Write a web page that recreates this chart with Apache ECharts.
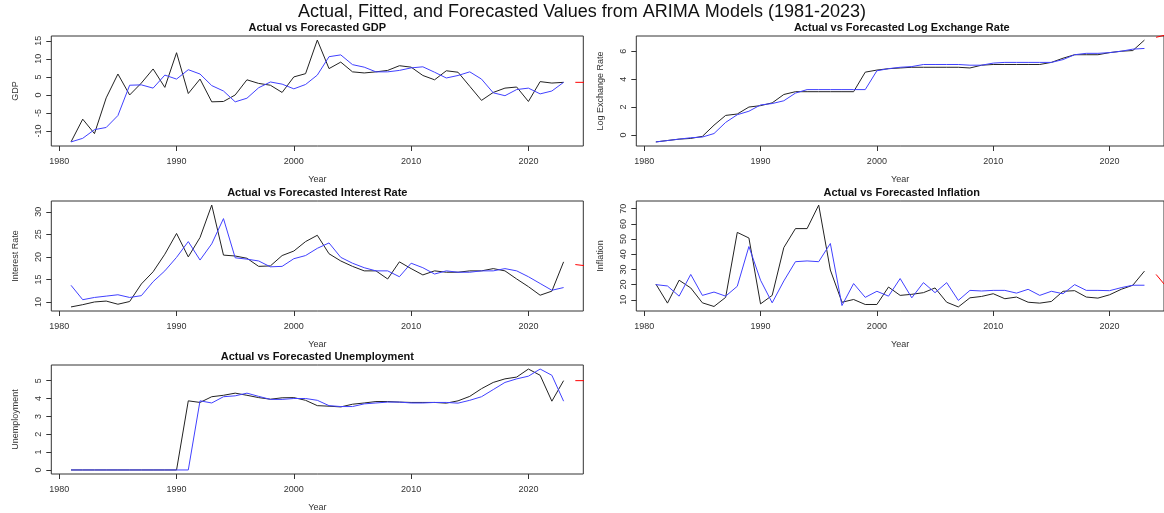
<!DOCTYPE html>
<html><head><meta charset="utf-8">
<script src="https://cdn.jsdelivr.net/npm/echarts@6/dist/echarts.min.js"></script>
<style>html,body{margin:0;padding:0;background:#fff}#c{width:1164px;height:513px}</style>
</head><body><div id="c"></div>
<script>
const years = [1981,1982,1983,1984,1985,1986,1987,1988,1989,1990,1991,1992,1993,1994,1995,1996,1997,1998,1999,2000,2001,2002,2003,2004,2005,2006,2007,2008,2009,2010,2011,2012,2013,2014,2015,2016,2017,2018,2019,2020,2021,2022,2023];
const forecastYears = [2024, 2025];
const xTicks = [1980, 1990, 2000, 2010, 2020];

const gdpActual = [-13,-6.7,-10.7,-0.8,5.8,0,3.3,7.2,2.1,11.7,0.4,4.4,-1.9,-1.8,0,4.2,3.2,2.7,0.7,5.0,5.9,15.2,7.3,9.1,6.4,6.1,6.4,6.8,8.1,7.7,5.4,4.2,6.7,6.3,2.4,-1.5,0.7,1.9,2.2,-1.8,3.7,3.3,3.5];
const gdpFitted = [-13,-12.0,-9.6,-9.0,-5.7,2.7,2.8,1.9,5.5,4.4,7.0,5.8,2.6,1.1,-1.9,-0.9,2.0,3.6,3.0,1.7,2.9,5.5,10.6,11.1,8.4,7.7,6.4,6.4,6.8,7.5,7.8,6.3,4.7,5.4,6.4,4.4,0.6,-0.2,1.5,1.9,0.3,1.1,3.5];
const gdpForecast = [3.5, 3.5];
const gdpTicks = [-10, -5, 0, 5, 10, 15];

const fxActual = [-0.5,-0.4,-0.3,-0.25,-0.1,0.7,1.4,1.5,2.0,2.1,2.3,2.9,3.1,3.1,3.1,3.1,3.1,3.1,4.5,4.65,4.75,4.8,4.85,4.85,4.85,4.85,4.85,4.8,5.0,5.05,5.05,5.05,5.05,5.05,5.2,5.5,5.75,5.75,5.75,5.9,6.0,6.05,6.8];
const fxFitted = [-0.5,-0.4,-0.3,-0.2,-0.15,0.1,0.9,1.45,1.7,2.15,2.25,2.45,3.0,3.25,3.25,3.25,3.25,3.25,3.25,4.6,4.75,4.85,4.9,5.05,5.05,5.05,5.05,5.0,5.0,5.15,5.2,5.2,5.2,5.2,5.2,5.4,5.75,5.85,5.85,5.9,6.0,6.15,6.2];
const fxForecast = [7.0, 7.2];
const fxTicks = [0, 2, 4, 6];

const irActual = [8.9,9.4,10.0,10.2,9.5,10.1,14.0,16.7,20.6,25.2,20.0,24.3,31.5,20.4,20.2,19.7,17.9,18.0,20.3,21.3,23.4,24.8,20.7,19.1,17.9,16.9,16.9,15.1,18.9,17.4,16.0,16.9,16.6,16.6,16.9,16.9,17.4,16.9,15.1,13.4,11.5,12.4,18.9];
const irFitted = [13.7,10.5,11.0,11.3,11.6,11.0,11.4,14.5,16.9,19.9,23.4,19.3,22.9,28.5,19.8,19.5,19.1,17.8,17.9,19.6,20.3,21.9,23.1,19.9,18.6,17.6,16.9,16.9,15.6,18.6,17.6,16.2,16.9,16.6,16.6,16.9,16.9,17.4,16.9,15.6,14.1,12.6,13.2];
const irForecast = [18.3, 18.0];
const irTicks = [10, 15, 20, 25, 30];

const infActual = [20.4,7.8,22.9,17.8,8.0,5.6,11.6,54.4,50.7,7.3,12.9,44.4,56.9,56.9,72.4,29.6,8.4,10.2,6.9,6.9,18.4,12.9,13.6,14.7,17.8,8.4,5.3,11.3,12.2,14.0,10.7,11.8,8.4,7.8,8.9,15.6,16.0,11.8,11.1,13.3,16.9,19.6,28.9];
const infFitted = [20.0,19.1,12.4,26.7,12.9,15.1,12.4,18.9,45.1,22.9,8.0,22.4,35.1,35.6,35.1,47.1,6.2,20.7,11.6,15.6,12.4,24.0,11.3,21.3,14.7,21.3,9.6,16.2,15.8,16.2,16.2,14.4,16.9,12.9,15.6,14.0,20.0,16.2,16.2,16.0,18.0,19.6,19.6];
const infForecast = [26.7, 17.5];
const infTicks = [10, 20, 30, 40, 50, 60, 70];

const unActual = [0,0,0,0,0,0,0,0,0,0,3.87,3.78,4.1,4.18,4.3,4.18,4.05,3.96,4.04,4.05,3.9,3.6,3.57,3.53,3.68,3.75,3.83,3.83,3.8,3.78,3.78,3.78,3.74,3.87,4.12,4.55,4.9,5.1,5.2,5.65,5.3,3.85,5.0];
const unFitted = [0,0,0,0,0,0,0,0,0,0,0,3.87,3.75,4.1,4.15,4.3,4.12,3.95,3.95,4.0,4.0,3.9,3.6,3.55,3.55,3.7,3.75,3.8,3.8,3.75,3.75,3.78,3.78,3.74,3.9,4.1,4.5,4.9,5.1,5.25,5.65,5.3,3.85];
const unForecast = [5.0, 5.0];
const unTicks = [0, 1, 2, 3, 4, 5];

const panels = [
  {title:'Actual vs Forecasted GDP', yName:'GDP', a:gdpActual, f:gdpFitted, fc:gdpForecast, ticks:gdpTicks, col:0, row:0},
  {title:'Actual vs Forecasted Log Exchange Rate', yName:'Log Exchange Rate', a:fxActual, f:fxFitted, fc:fxForecast, ticks:fxTicks, col:1, row:0},
  {title:'Actual vs Forecasted Interest Rate', yName:'Interest Rate', a:irActual, f:irFitted, fc:irForecast, ticks:irTicks, col:0, row:1},
  {title:'Actual vs Forecasted Inflation', yName:'Inflation', a:infActual, f:infFitted, fc:infForecast, ticks:infTicks, col:1, row:1},
  {title:'Actual vs Forecasted Unemployment', yName:'Unemployment', a:unActual, f:unFitted, fc:unForecast, ticks:unTicks, col:0, row:2}
];

const colLeft = [51.3, 636.3];
const colWidth = [532, 531];
const rowTop = [36, 201, 365];
const gridH = 110;
const xMin = 1979.32, xMax = 2024.68;
const axisColor = '#333';
const fontFam = '"Liberation Sans", Arial, sans-serif';

const grids = [], xAxes = [], yAxes = [], series = [], graphics = [];
graphics.push({type:'text', x:582, y:12, style:{text:'Actual, Fitted, and Forecasted Values from ARIMA Models (1981-2023)', font:'normal 18px ' + fontFam, fill:'#111', align:'center', verticalAlign:'middle', textAlign:'center', textVerticalAlign:'middle'}});

panels.forEach((p, i) => {
  const left = colLeft[p.col], width = colWidth[p.col], top = rowTop[p.row];
  const all = p.a.concat(p.f);
  const lo = Math.min(...all), hi = Math.max(...all), r = hi - lo;
  grids.push({left:left, top:top, width:width, height:gridH, show:true, borderColor:axisColor, borderWidth:1, backgroundColor:'transparent', containLabel:false});
  xAxes.push({type:'value', gridIndex:i, min:xMin, max:xMax, position:'bottom',
    name:'Year', nameLocation:'middle', nameGap:29, nameTextStyle:{fontSize:9, color:'#333', fontFamily:fontFam},
    axisLine:{show:false, onZero:false}, splitLine:{show:false},
    axisTick:{show:true, length:5, lineStyle:{color:axisColor}, customValues:xTicks},
    axisLabel:{customValues:xTicks, fontSize:9, color:'#333', margin:11, fontFamily:fontFam, formatter:(v) => String(Math.round(v))}});
  yAxes.push({type:'value', gridIndex:i, min:lo - 0.04*r, max:hi + 0.04*r, position:'left',
    name:p.yName, nameLocation:'middle', nameGap:31, nameRotate:90, nameTextStyle:{fontSize:9, color:'#333', fontFamily:fontFam},
    axisLine:{show:false, onZero:false}, splitLine:{show:false},
    axisTick:{show:true, length:5, lineStyle:{color:axisColor}, customValues:p.ticks},
    axisLabel:{customValues:p.ticks, rotate:90, fontSize:9, color:'#333', margin:8, fontFamily:fontFam, formatter:(v) => String(v)}});
  series.push({type:'line', xAxisIndex:i, yAxisIndex:i, showSymbol:false, silent:true, animation:false,
    data: years.map((y, k) => [y, p.a[k]]), lineStyle:{color:'#222', width:1}});
  series.push({type:'line', xAxisIndex:i, yAxisIndex:i, showSymbol:false, silent:true, animation:false,
    data: years.map((y, k) => [y, p.f[k]]), lineStyle:{color:'#4040ff', width:1}});
  series.push({type:'line', xAxisIndex:i, yAxisIndex:i, showSymbol:false, silent:true, animation:false, clip:false,
    data: forecastYears.map((y, k) => [y, p.fc[k]]), lineStyle:{color:'#ff0000', width:1}});
  graphics.push({type:'text', x:left + width/2, y:top - 8, style:{text:p.title, font:'bold 11px ' + fontFam, fill:'#111', align:'center', verticalAlign:'middle', textAlign:'center', textVerticalAlign:'middle'}});
});

const chart = echarts.init(document.getElementById('c'), null, {renderer:'canvas'});
chart.setOption({animation:false, grid:grids, xAxis:xAxes, yAxis:yAxes, series:series, graphic:graphics});
</script></body></html>
